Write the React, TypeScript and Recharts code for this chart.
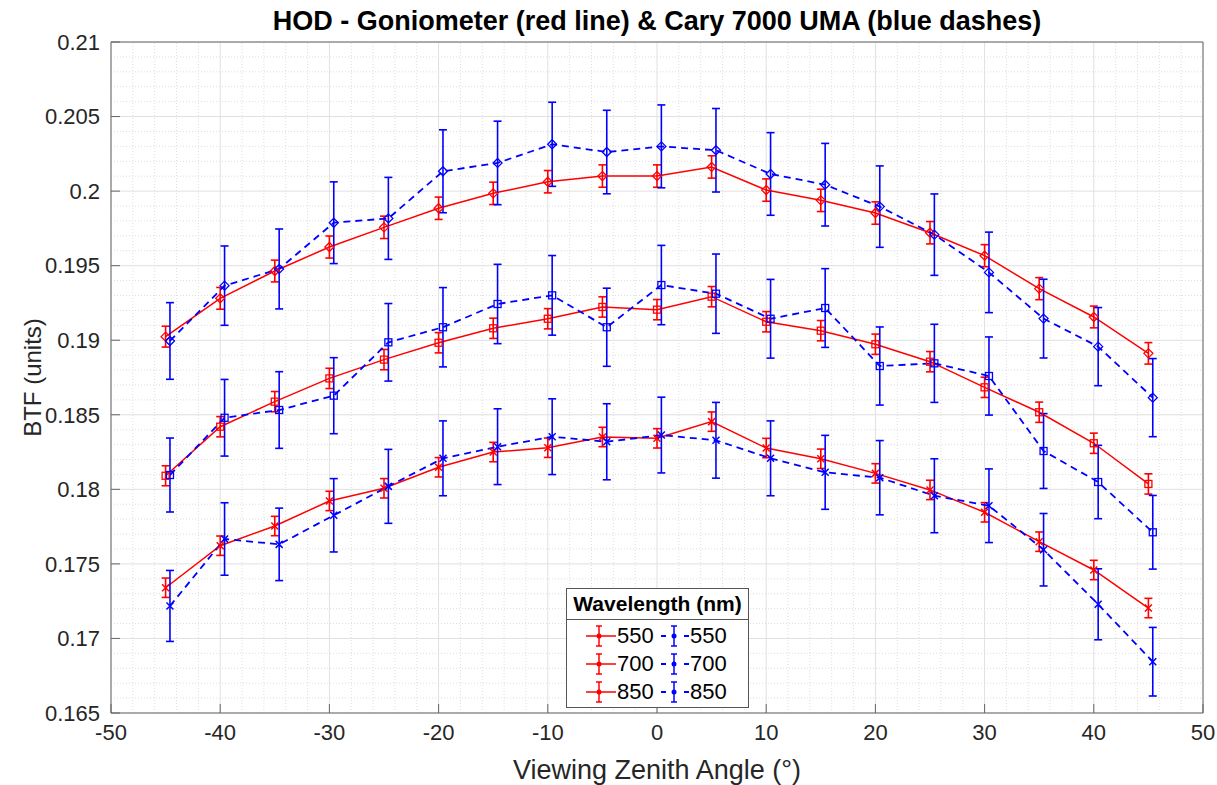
import React from 'react';
import { LineChart, Line, XAxis, YAxis, CartesianGrid, ErrorBar, ReferenceLine, Legend } from 'recharts';

// viewing angles (deg); the Cary points sit a touch to the right of the goniometer ones
const angles = [-45, -40, -35, -30, -25, -20, -15, -10, -5, 0, 5, 10, 15, 20, 25, 30, 35, 40, 45];
const caryAngles = [-44.6, -39.6, -34.6, -29.6, -24.6, -19.6, -14.6, -9.6, -4.6, 0.4, 5.4, 10.4, 15.4, 20.4, 25.4, 30.4, 35.4, 40.4, 45.4];

// Goniometer (red line)
const gonio550 = [0.1734, 0.17622, 0.17754, 0.17922, 0.18007, 0.18148, 0.1825, 0.18279, 0.18351, 0.18342, 0.18454, 0.18277, 0.18205, 0.18107, 0.17996, 0.17846, 0.17649, 0.17459, 0.17204];
const gonio700 = [0.18091, 0.1842, 0.18588, 0.18744, 0.1887, 0.18983, 0.1908, 0.19144, 0.19223, 0.19205, 0.19292, 0.19124, 0.19064, 0.18973, 0.18856, 0.18684, 0.18517, 0.18309, 0.18036];
const gonio850 = [0.19024, 0.19281, 0.19464, 0.19625, 0.19757, 0.19885, 0.19985, 0.20063, 0.20101, 0.20101, 0.20162, 0.20007, 0.19938, 0.19853, 0.19721, 0.19567, 0.19346, 0.19156, 0.18912];
const gonioErr550 = [0.00065, 0.00065, 0.00065, 0.00065, 0.00065, 0.00065, 0.00065, 0.00065, 0.00065, 0.00065, 0.00065, 0.00065, 0.00065, 0.00065, 0.00065, 0.00065, 0.00065, 0.00065, 0.00065];
const gonioErr700 = [0.00067, 0.00068, 0.00068, 0.00068, 0.00068, 0.00068, 0.00068, 0.00068, 0.00068, 0.00068, 0.00068, 0.00068, 0.00068, 0.00068, 0.00068, 0.00068, 0.00068, 0.00068, 0.00068];
const gonioErr850 = [0.0007, 0.00073, 0.00073, 0.00074, 0.00075, 0.00075, 0.00075, 0.00075, 0.00075, 0.00075, 0.00075, 0.00075, 0.00075, 0.00075, 0.00075, 0.00074, 0.00074, 0.00073, 0.00072];

// Cary 7000 UMA (blue dashes)
const cary550 = [0.17218, 0.17667, 0.17631, 0.17826, 0.1802, 0.18208, 0.18286, 0.18353, 0.18319, 0.18364, 0.18329, 0.18208, 0.18114, 0.18078, 0.17957, 0.1789, 0.17595, 0.17229, 0.16844];
const cary700 = [0.18096, 0.1848, 0.18532, 0.18628, 0.18986, 0.19087, 0.19243, 0.19301, 0.19087, 0.1937, 0.19312, 0.19144, 0.19216, 0.18827, 0.18845, 0.1876, 0.18257, 0.18049, 0.17712];
const cary850 = [0.18995, 0.19366, 0.19478, 0.19788, 0.19817, 0.20133, 0.20189, 0.20314, 0.20262, 0.203, 0.20274, 0.20115, 0.20043, 0.19896, 0.19708, 0.19455, 0.19145, 0.18957, 0.18615];
const caryErr550 = [0.00238, 0.00243, 0.00243, 0.00246, 0.00248, 0.00251, 0.00254, 0.00254, 0.00255, 0.00254, 0.00254, 0.00251, 0.00248, 0.00249, 0.00248, 0.00247, 0.00243, 0.00238, 0.0023];
const caryErr700 = [0.00248, 0.00257, 0.00257, 0.00255, 0.0026, 0.00266, 0.00266, 0.00267, 0.00262, 0.00266, 0.00266, 0.00264, 0.00264, 0.00262, 0.00262, 0.00262, 0.00251, 0.00246, 0.00247];
const caryErr850 = [0.00257, 0.00266, 0.00268, 0.00274, 0.00275, 0.00278, 0.0028, 0.00282, 0.0028, 0.00278, 0.0028, 0.00277, 0.00277, 0.00273, 0.00273, 0.0027, 0.00264, 0.00262, 0.00262];

const wavelengths = ['550', '700', '850'];
const xTicks = [-50, -40, -30, -20, -10, 0, 10, 20, 30, 40, 50];
const yTicks = [0.165, 0.17, 0.175, 0.18, 0.185, 0.19, 0.195, 0.2, 0.205, 0.21];
const yTickLabels = ['0.165', '0.17', '0.175', '0.18', '0.185', '0.19', '0.195', '0.2', '0.205', '0.21'];

const RED = '#ff0000';
const BLUE = '#0000ff';
const FONT = '"Liberation Sans", Arial, Helvetica, sans-serif';

const rows = (xs: number[], ys: number[], errs: number[]) =>
  xs.map((x, i) => ({ x, y: ys[i], err: errs[i] }));

// minor grid positions (MATLAB style dotted grid)
const xMinor: number[] = [];
for (let v = -48; v <= 48; v += 2) if (v % 10 !== 0) xMinor.push(v);
const yMinor: number[] = [];
for (let k = 166; k <= 209; k++) if (k % 5 !== 0) yMinor.push(k / 1000);

const crossDot = (color: string) => (p: any) => {
  const { cx, cy, index } = p;
  const s = 3.5;
  return (
    <path key={index} d={`M${cx - s},${cy - s}L${cx + s},${cy + s}M${cx - s},${cy + s}L${cx + s},${cy - s}`}
      stroke={color} strokeWidth={1.5} fill="none" />
  );
};
const squareDot = (color: string) => (p: any) => {
  const { cx, cy, index } = p;
  return <rect key={index} x={cx - 3.5} y={cy - 3.5} width={7} height={7} stroke={color} strokeWidth={1.3} fill="none" />;
};
const diamondDot = (color: string) => (p: any) => {
  const { cx, cy, index } = p;
  const s = 4.5;
  return <path key={index} d={`M${cx},${cy - s}L${cx + s},${cy}L${cx},${cy + s}L${cx - s},${cy}Z`} stroke={color} strokeWidth={1.3} fill="none" />;
};

const series = [
  { key: 'g550', data: rows(angles, gonio550, gonioErr550), color: RED, dot: crossDot(RED), dash: undefined, w: 1.5 },
  { key: 'g700', data: rows(angles, gonio700, gonioErr700), color: RED, dot: squareDot(RED), dash: undefined, w: 1.5 },
  { key: 'g850', data: rows(angles, gonio850, gonioErr850), color: RED, dot: diamondDot(RED), dash: undefined, w: 1.5 },
  { key: 'c550', data: rows(caryAngles, cary550, caryErr550), color: BLUE, dot: crossDot(BLUE), dash: '7 5', w: 1.8 },
  { key: 'c700', data: rows(caryAngles, cary700, caryErr700), color: BLUE, dot: squareDot(BLUE), dash: '7 5', w: 1.8 },
  { key: 'c850', data: rows(caryAngles, cary850, caryErr850), color: BLUE, dot: diamondDot(BLUE), dash: '7 5', w: 1.8 },
];

function LegendBox() {
  return (
    <div style={{ width: 183, border: '1px solid #555', background: '#fff', fontFamily: FONT, color: '#000', boxSizing: 'border-box' }}>
      <div style={{ height: 30, lineHeight: '30px', fontSize: 21, fontWeight: 'bold', textAlign: 'center', borderBottom: '1px solid #555' }}>
        Wavelength (nm)
      </div>
      <div style={{ paddingTop: 2, paddingBottom: 1 }}>
        {wavelengths.map((w) => (
          <div key={w} style={{ position: 'relative', height: 28 }}>
            <svg width={182} height={28} style={{ position: 'absolute', left: 0, top: 0 }}>
              <line x1={19} y1={14} x2={49} y2={14} stroke={RED} strokeWidth={1.5} />
              <line x1={32} y1={4} x2={32} y2={24} stroke={RED} strokeWidth={1.5} />
              <line x1={29} y1={4} x2={35} y2={4} stroke={RED} strokeWidth={1.5} />
              <line x1={29} y1={24} x2={35} y2={24} stroke={RED} strokeWidth={1.5} />
              <circle cx={32} cy={14} r={2.5} fill={RED} />
              <line x1={94} y1={14} x2={122} y2={14} stroke={BLUE} strokeWidth={1.8} strokeDasharray="5 18" />
              <line x1={107} y1={4} x2={107} y2={24} stroke={BLUE} strokeWidth={1.5} />
              <line x1={104} y1={4} x2={110} y2={4} stroke={BLUE} strokeWidth={1.5} />
              <line x1={104} y1={24} x2={110} y2={24} stroke={BLUE} strokeWidth={1.5} />
              <circle cx={107} cy={14} r={2.5} fill={BLUE} />
            </svg>
            <span style={{ position: 'absolute', left: 50, top: 0, lineHeight: '28px', fontSize: 22 }}>{w}</span>
            <span style={{ position: 'absolute', left: 123, top: 0, lineHeight: '28px', fontSize: 22 }}>{w}</span>
          </div>
        ))}
      </div>
    </div>
  );
}

export default function App() {
  const tickStyle = { fontSize: 22, fill: '#262626', fontFamily: FONT };
  return (
    <div style={{ position: 'absolute', left: 0, top: 0, width: 1217, height: 785, background: '#fff', fontFamily: FONT }}>
      <div style={{ position: 'absolute', left: 111, width: 1092, top: 6, textAlign: 'center', fontSize: 27, fontWeight: 'bold', lineHeight: '30px', color: '#000', zIndex: 2 }}>
        HOD - Goniometer (red line) &amp; Cary 7000 UMA (blue dashes)
      </div>
      <LineChart width={1217} height={785} margin={{ top: 0, right: 0, bottom: 0, left: 0 }}>
        <CartesianGrid stroke="#e0e0e0" strokeWidth={1} />
        {xMinor.map((v) => (
          <ReferenceLine key={'vx' + v} x={v} stroke="#dedede" strokeDasharray="1 2" />
        ))}
        {yMinor.map((v) => (
          <ReferenceLine key={'hy' + v} y={v} stroke="#dedede" strokeDasharray="1 2" />
        ))}
        <XAxis dataKey="x" type="number" domain={[-50, 50]} ticks={xTicks} allowDataOverflow height={72}
          stroke="#666" tickSize={-9} tickMargin={20} tick={tickStyle}
          label={{ value: 'Viewing Zenith Angle (°)', position: 'insideBottom', offset: 6, style: { fontSize: 27, fill: '#262626', fontFamily: FONT } }} />
        <XAxis xAxisId="top" orientation="top" dataKey="x" type="number" domain={[-50, 50]} ticks={xTicks} allowDataOverflow height={42}
          stroke="#666" tickSize={-9} tick={false} />
        <YAxis type="number" domain={[0.165, 0.21]} ticks={yTicks} allowDataOverflow width={111}
          stroke="#666" tickSize={-9} tickMargin={20} tick={tickStyle}
          tickFormatter={(v: number) => yTickLabels[yTicks.indexOf(v)] ?? String(v)}
          label={{ value: 'BTF (units)', angle: -90, position: 'insideLeft', offset: 32, style: { fontSize: 24, fill: '#262626', textAnchor: 'middle', fontFamily: FONT } }} />
        <YAxis yAxisId="right" orientation="right" type="number" domain={[0.165, 0.21]} ticks={yTicks} allowDataOverflow width={14}
          stroke="#666" tickSize={-9} tick={false} />
        {series.map((s) => (
          <Line key={s.key} data={s.data} dataKey="y" type="linear" stroke={s.color} strokeWidth={s.w}
            strokeDasharray={s.dash} dot={s.dot} activeDot={false} isAnimationActive={false} legendType="none">
            <ErrorBar dataKey="err" width={4} stroke={s.color} strokeWidth={1.6} direction="y" />
          </Line>
        ))}
        <Legend layout="horizontal" verticalAlign="middle" align="center" content={() => <LegendBox />}
          wrapperStyle={{ left: 566, top: 588, width: 183 }} />
      </LineChart>
    </div>
  );
}
